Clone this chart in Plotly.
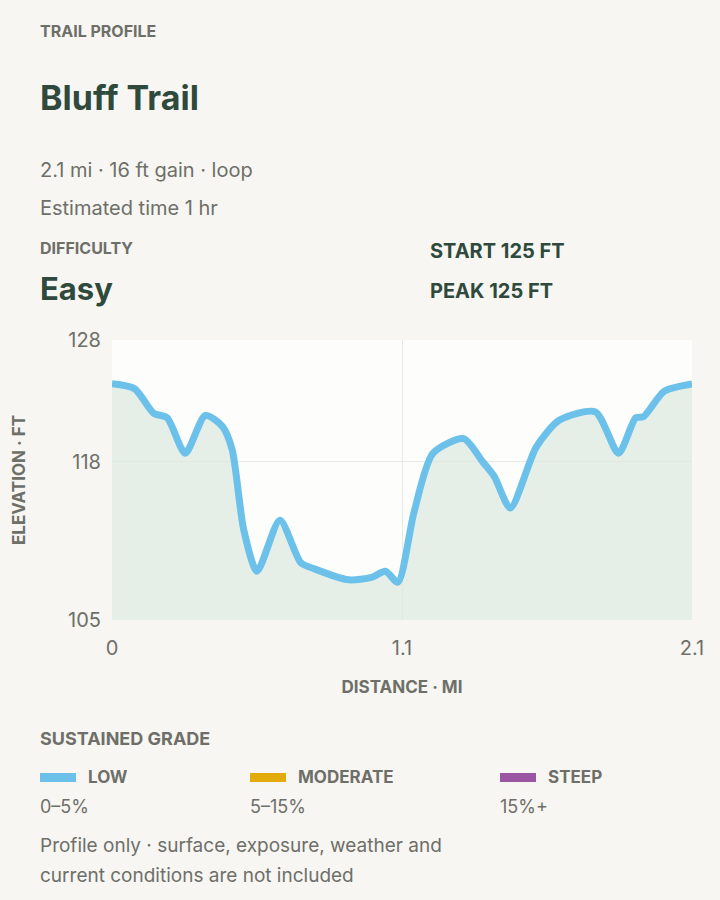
import plotly.graph_objects as go

distance_mi = [0, 0.082, 0.15, 0.2, 0.265, 0.338, 0.40, 0.435, 0.477, 0.525, 0.608, 0.684, 0.733,
               0.857, 0.94, 0.99, 1.035, 1.093, 1.162, 1.273, 1.342, 1.384, 1.442, 1.536, 1.619,
               1.75, 1.834, 1.896, 1.924, 2.0, 2.1]
elevation_ft = [124.4, 124.0, 122.0, 121.6, 118.7, 121.8, 120.9, 119.0, 112.4, 109.0, 113.2, 109.7, 109.2,
                108.3, 108.5, 109.0, 108.1, 113.8, 118.7, 119.9, 118.0, 116.8, 114.2, 119.2, 121.4,
                122.1, 118.7, 121.6, 121.7, 123.8, 124.4]
x_tickvals = [0, 1.05, 2.1]
x_ticktext = ["0", "1.1", "2.1"]
y_tickvals = [105, 118, 128]
legend_names = ["LOW", "MODERATE", "STEEP"]
legend_ranges = ["0–5%", "5–15%", "15%+"]
legend_colors = ["#6BC1EA", "#E2AA0A", "#9B55A3"]

DARK = "#2F4A3C"
GRAY = "#6E6F69"
FONT = "Inter"

L, R, T, B = 112, 692, 340, 620
def px(x): return (x - L) / (R - L)
def py(y): return (B - y) / (B - T)

fig = go.Figure()
fig.add_trace(go.Scatter(x=distance_mi, y=elevation_ft, mode="lines",
                         line=dict(color="#6BC1EA", width=7, shape="spline", smoothing=0.7),
                         fill="tozeroy", fillcolor="rgba(220,232,222,0.7)", hoverinfo="skip"))

ann = []
def t(x, y, text, size, color, bold=False, anchor="left"):
    ann.append(dict(x=px(x - 2), y=py(y), xref="paper", yref="paper", text=f"<b>{text}</b>" if bold else text,
                    showarrow=False, xanchor=anchor, yanchor="middle",
                    font=dict(family=FONT, size=size, color=color)))

t(40, 31, "TRAIL PROFILE", 16, GRAY, True)
t(40, 97, "Bluff Trail", 34, DARK, True)
t(40, 170, "2.1 mi · 16 ft gain · loop", 20, GRAY)
t(40, 208, "Estimated time 1 hr", 20, GRAY)
t(40, 248, "DIFFICULTY", 16, GRAY, True)
t(40, 288, "Easy", 31, DARK, True)
t(430, 251, "START 125 FT", 20, DARK, True)
t(430, 291, "PEAK 125 FT", 20, DARK, True)
t(40, 738, "SUSTAINED GRADE", 18, GRAY, True)
shapes = []
for x0, n, r, c in zip([40, 250, 500], legend_names, legend_ranges, legend_colors):
    shapes.append(dict(type="rect", xref="paper", yref="paper", x0=px(x0), x1=px(x0 + 36),
                       y0=py(782), y1=py(773), fillcolor=c, line=dict(width=0)))
    t(x0 + 48, 777, n, 17, GRAY, True)
    t(x0, 806, r, 18, GRAY)
t(40, 845, "Profile only · surface, exposure, weather and", 19, GRAY)
t(40, 875, "current conditions are not included", 19, GRAY)

fig.update_layout(
    width=720, height=900, paper_bgcolor="#F7F6F2", plot_bgcolor="#FDFDFC",
    margin=dict(l=L, r=720 - R, t=T, b=900 - B), showlegend=False,
    annotations=ann, shapes=shapes,
    xaxis=dict(range=[0, 2.1], tickvals=x_tickvals, ticktext=x_ticktext, showgrid=True,
               gridcolor="#E8E8E6", zeroline=False, showline=False, ticklabelstandoff=14,
               tickfont=dict(family=FONT, size=20, color=GRAY),
               title=dict(text="<b>DISTANCE · MI</b>", font=dict(family=FONT, size=17, color=GRAY), standoff=22)),
    yaxis=dict(range=[105, 128], tickvals=y_tickvals, showgrid=True, gridcolor="#E8E8E6",
               zeroline=False, showline=False, ticks="", ticklabelstandoff=10,
               tickfont=dict(family=FONT, size=20, color=GRAY),
               title=dict(text="<b>ELEVATION · FT</b>", font=dict(family=FONT, size=17, color=GRAY), standoff=38)),
)
fig.write_html("out.html", config={"displayModeBar": False},
               post_script="document.body.style.margin='0';document.body.style.background='#F7F6F2';")
